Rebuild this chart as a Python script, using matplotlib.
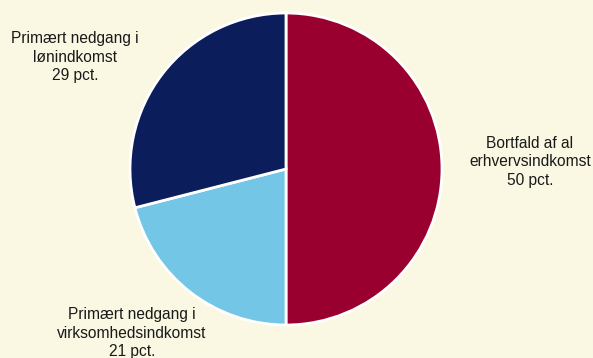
import matplotlib.pyplot as plt

# Andele af samlet indkomstnedgang (pct.)
labels = ["Bortfald af al\nerhvervsindkomst", "Primært nedgang i\nvirksomhedsindkomst",
          "Primært nedgang i\nlønindkomst"]
shares = [50, 21, 29]
colors = ["#990030", "#74C6E6", "#0B1E5B"]

bg = "#FAF8E2"
plt.rcParams["font.family"] = ["Liberation Sans", "DejaVu Sans"]

fig = plt.figure(figsize=(5.93, 3.58), dpi=100, facecolor=bg)
ax = fig.add_axes([0, 0, 1, 1])
ax.set_facecolor(bg)

ax.pie(shares, colors=colors, startangle=90, counterclock=False,
       center=(286, 189), radius=156,
       wedgeprops=dict(edgecolor="white", linewidth=2))

# pie() resets limits, so set them afterwards (pixel coords, origin lower left)
ax.set_xlim(0, 593)
ax.set_ylim(0, 358)
ax.axis("off")

label_pos = [(530, 196), (132, 25), (75, 301)]
for lab, s, (x, y) in zip(labels, shares, label_pos):
    ax.text(x, y, f"{lab}\n{s} pct.", ha="center", va="center",
            fontsize=11.2, color="#1a1a1a", linespacing=1.33)

fig.savefig("out.png", dpi=100, facecolor=bg)
